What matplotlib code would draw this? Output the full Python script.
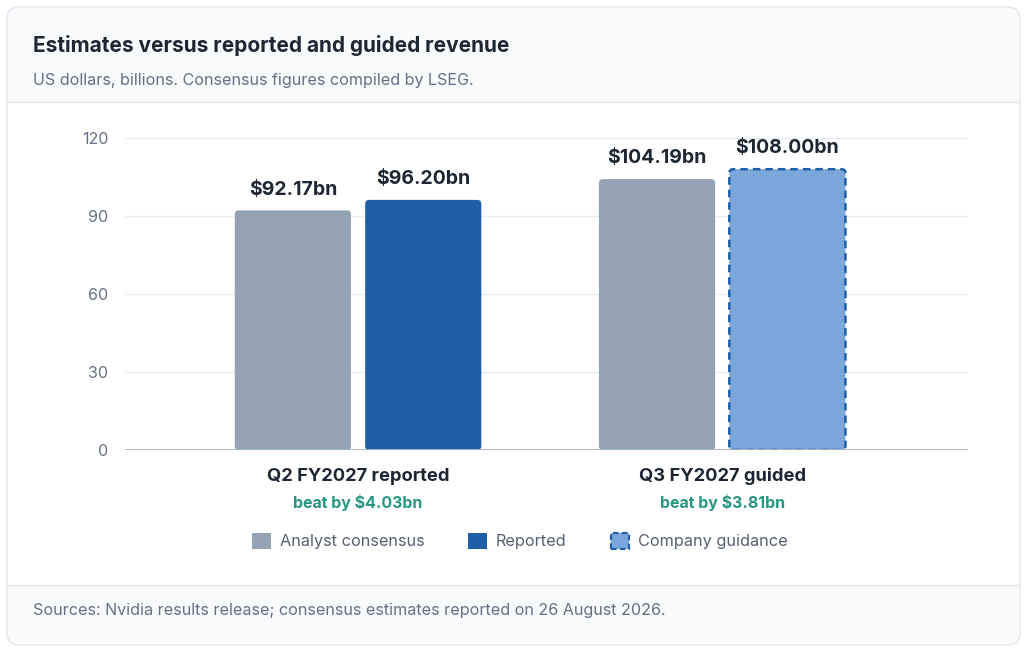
import matplotlib
matplotlib.use("Agg")
import matplotlib.pyplot as plt
from matplotlib.patches import FancyBboxPatch, Rectangle, Patch
from matplotlib.lines import Line2D

plt.rcParams['font.family'] = ['Inter', 'DejaVu Sans']

# ---- data ----
categories = ["Q2 FY2027 reported", "Q3 FY2027 guided"]
consensus = [92.17, 104.19]
reported = [96.20]          # Q2 reported
guidance = [108.00]         # Q3 company guidance
beat_labels = ["beat by $4.03bn", "beat by $3.81bn"]
yticks = [0, 30, 60, 90, 120]
legend_labels = ["Analyst consensus", "Reported", "Company guidance"]

title = "Estimates versus reported and guided revenue"
subtitle = "US dollars, billions. Consensus figures compiled by LSEG."
source = "Sources: Nvidia results release; consensus estimates reported on 26 August 2026."

# ---- colours ----
C_GRAY = "#94a3b3"
C_BLUE = "#1f5fa8"
C_LIGHT = "#7aa6d9"
C_TEAL = "#279683"
C_DARK = "#1e2633"
C_MUTED = "#667085"

W, H = 1024, 648
fig = plt.figure(figsize=(W / 100, H / 100), dpi=100)
fig.patch.set_facecolor("white")


def fx(x):
    return x / W


def fy(y):
    return 1 - y / H


# ---- card ----
card_l, card_r, card_t, card_b = 7, 1020, 7, 645
head_b, foot_t = 102, 585
fig.patches.append(FancyBboxPatch((fx(card_l), fy(card_b)), fx(card_r - card_l), (card_b - card_t) / H,
                                  boxstyle="round,pad=0,rounding_size=0.012", transform=fig.transFigure,
                                  facecolor="#f8fafc", edgecolor="none", zorder=-3, mutation_aspect=W / H))
fig.patches.append(Rectangle((fx(card_l + 1), fy(foot_t)), fx(card_r - card_l - 2), (foot_t - head_b) / H,
                             transform=fig.transFigure, facecolor="white", edgecolor="none", zorder=-2))
fig.patches.append(FancyBboxPatch((fx(card_l), fy(card_b)), fx(card_r - card_l), (card_b - card_t) / H,
                                  boxstyle="round,pad=0,rounding_size=0.012", transform=fig.transFigure,
                                  facecolor="none", edgecolor="#e3e7ec", lw=1.0, zorder=-1, mutation_aspect=W / H))
for yy in (head_b, foot_t):
    fig.lines.append(Line2D([fx(card_l), fx(card_r)], [fy(yy), fy(yy)], transform=fig.transFigure,
                            color="#e6e9ee", lw=1.0, zorder=-1))

fig.text(fx(33), fy(45), title, fontsize=15, fontweight="bold", color=C_DARK, va="center", ha="left")
fig.text(fx(33), fy(80), subtitle, fontsize=11.6, color=C_MUTED, va="center", ha="left")
fig.text(fx(33), fy(611), source, fontsize=11.6, color=C_MUTED, va="center", ha="left")

# ---- axes ----
ax_l, ax_r, ax_t, ax_b = 125, 968, 138, 450
ax = fig.add_axes([fx(ax_l), fy(ax_b), fx(ax_r - ax_l), (ax_b - ax_t) / H])
ax.set_facecolor("none")
xmin, xmax = -0.64, 1.675
ax.set_xlim(xmin, xmax)
ax.set_ylim(0, 120)
for s in ax.spines.values():
    s.set_visible(False)
ax.set_yticks(yticks)
ax.set_yticklabels([str(t) for t in yticks])
ax.tick_params(axis="y", length=0, pad=12, labelsize=11.5, labelcolor=C_MUTED)
ax.set_xticks([])
for t in yticks[1:]:
    ax.axhline(t, color="#e9ecf0", lw=1.0, zorder=0)
ax.axhline(0, color="#a7b0bd", lw=2.0, zorder=3)

bw = 0.319
off = 0.179
px_per_x = (ax_r - ax_l) / (xmax - xmin)
px_per_y = (ax_b - ax_t) / 120.0
aspect = px_per_x / px_per_y
rad = 4.0 / px_per_x


def rounded(bars, **kw):
    for b in bars:
        x0, y0 = b.get_x(), b.get_y()
        w, h = b.get_width(), b.get_height()
        p = FancyBboxPatch((x0, y0), w, h, boxstyle=f"round,pad=0,rounding_size={rad}",
                           mutation_aspect=aspect, zorder=2, **kw)
        ax.add_patch(p)
        b.remove()


xs = list(range(len(categories)))
b1 = ax.bar([x - off for x in xs], consensus, width=bw)
rounded(b1, facecolor=C_GRAY, edgecolor="none")
b2 = ax.bar([xs[0] + off], reported, width=bw)
rounded(b2, facecolor=C_BLUE, edgecolor="none")
b3 = ax.bar([xs[1] + off], guidance, width=bw)
rounded(b3, facecolor=C_LIGHT, edgecolor=C_BLUE, lw=1.8, linestyle=(0, (3, 2)))

for x, v in zip([xs[0] - off, xs[1] - off, xs[0] + off, xs[1] + off],
                consensus + reported + guidance):
    ax.annotate(f"${v:.2f}bn", (x, v), xytext=(0, 8.5), textcoords="offset points",
                ha="center", va="bottom", fontsize=14, fontweight="bold", color=C_DARK,
                annotation_clip=False)

for x, cat, beat in zip(xs, categories, beat_labels):
    ax.annotate(cat, (x, 0), xytext=(0, -26.5 * 0.72), textcoords="offset points",
                ha="center", va="center", fontsize=13.2, fontweight="bold", color=C_DARK,
                annotation_clip=False)
    ax.annotate(beat, (x, 0), xytext=(0, -52.5 * 0.72), textcoords="offset points",
                ha="center", va="center", fontsize=11.5, fontweight="bold", color=C_TEAL,
                annotation_clip=False)

handles = [Patch(facecolor=C_GRAY, edgecolor="none"),
           Patch(facecolor=C_BLUE, edgecolor="none"),
           Patch(facecolor=C_LIGHT, edgecolor=C_BLUE, lw=1.6, linestyle=(0, (2.5, 1.5)))]
leg = fig.legend(handles, legend_labels, loc="center", bbox_to_anchor=(fx(520), fy(541)),
                 ncol=3, frameon=False, fontsize=11.7, handlelength=1.15, handleheight=1.15,
                 handletextpad=0.55, columnspacing=2.7)
for t in leg.get_texts():
    t.set_color("#556070")

fig.savefig("out.png", dpi=100, facecolor="white")
